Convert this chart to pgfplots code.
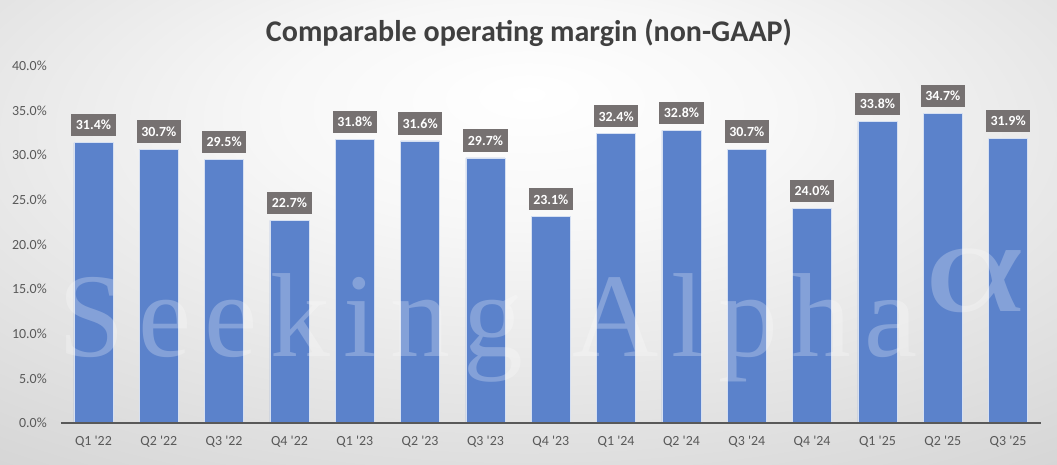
\documentclass[border=0pt]{standalone}
\usepackage{pgfplots}
\pgfplotsset{compat=1.18}
\usepackage{fontspec}
\setmainfont{Carlito}
\newfontfamily\wmfont{Liberation Serif}
\definecolor{barblue}{RGB}{91,130,203}
\definecolor{lblgray}{RGB}{118,113,113}
\definecolor{axgray}{RGB}{89,89,89}
\definecolor{titlegray}{RGB}{64,64,64}
\pgfdeclareradialshading{bgshade}{\pgfpoint{0bp}{15bp}}{color(0bp)=(white); color(12bp)=(white!97!black); color(50bp)=(white!80!black); color(85bp)=(white!74!black)}
\pgfplotstableread{
x v
0 31.4
1 30.7
2 29.5
3 22.7
4 31.8
5 31.6
6 29.7
7 23.1
8 32.4
9 32.8
10 30.7
11 24.0
12 33.8
13 34.7
14 31.9
}\margin
\begin{document}
\begin{tikzpicture}
\shade[shading=bgshade] (0bp,0bp) rectangle (792.75bp,348.75bp);
\path[use as bounding box] (0bp,0bp) rectangle (792.75bp,348.75bp);
\begin{axis}[
  at={(45.6bp,31.5bp)}, anchor=south west,
  scale only axis, width=735bp, height=267.75bp,
  xmin=-0.5, xmax=14.5, ymin=0, ymax=40,
  axis line style={draw=none},
  axis x line*=bottom,
  ytick={0,5,...,40},
  xtick=data,
  xticklabels={Q1 \textquotesingle22,Q2 \textquotesingle22,Q3 \textquotesingle22,Q4 \textquotesingle22,Q1 \textquotesingle23,Q2 \textquotesingle23,Q3 \textquotesingle23,Q4 \textquotesingle23,Q1 \textquotesingle24,Q2 \textquotesingle24,Q3 \textquotesingle24,Q4 \textquotesingle24,Q1 \textquotesingle25,Q2 \textquotesingle25,Q3 \textquotesingle25},
  major tick length=0pt,
  /pgf/number format/assume math mode=true,
  yticklabel={\pgfmathprintnumber[fixed,fixed zerofill,precision=1]{\tick}\%},
  ticklabel style={font=\fontsize{10.5}{12}\selectfont, text=axgray},
  yticklabel style={xshift=-7bp},
  xticklabel style={yshift=-6bp},
  ybar, bar width=29.25bp,
  nodes near coords={\pgfmathprintnumber[fixed,fixed zerofill,precision=1]{\pgfplotspointmeta}\%},
  every node near coord/.append style={fill=lblgray, text=white, font=\bfseries\fontsize{10.5}{12}\selectfont, inner xsep=3.5bp, inner ysep=4.5bp, text height=7.4bp, text depth=0.3bp, anchor=south, yshift=4.5bp},
  clip=false,
]
\addplot[fill=barblue, draw=white!75!barblue, line width=0.6bp] table[x=x,y=v]{\margin};
\draw[axgray, line width=1.1bp] (axis cs:-0.5,0) -- (axis cs:14.5,0);
\end{axis}
\node[text=white, opacity=0.25, anchor=base west, inner sep=0pt, font=\wmfont\fontsize{90}{90}\selectfont] at (43.5bp,81bp) {S\kern10bp e\kern10bp e\kern10bp k\kern10bp i\kern10bp n\kern10bp g};
\node[text=white, opacity=0.25, anchor=base west, inner sep=0pt, font=\wmfont\fontsize{90}{90}\selectfont] at (429bp,81bp) {A\kern10bp l\kern10bp p\kern10bp h\kern10bp a};
\node[text=white, opacity=0.25, anchor=base west, inner sep=0pt, xscale=1.45, font=\wmfont\fontsize{100}{100}\selectfont] at (693bp,114.75bp) {α};
\node[text=titlegray, font=\bfseries\fontsize{22.6}{26}\selectfont] at (396.75bp,324bp) {Comparable operating margin (non-GAAP)};
\end{tikzpicture}
\end{document}
